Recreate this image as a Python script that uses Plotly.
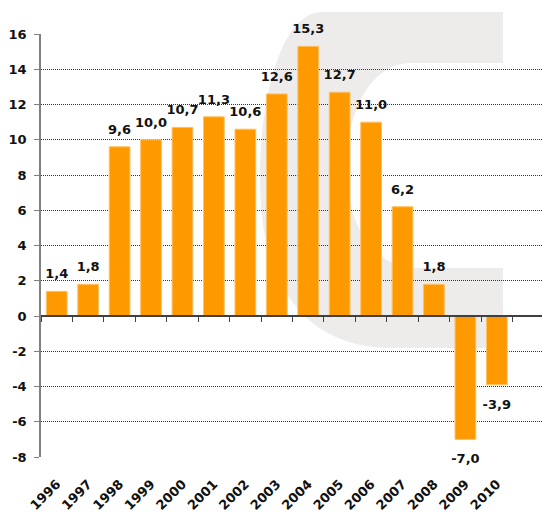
import plotly.graph_objects as go

years = ['1996', '1997', '1998', '1999', '2000', '2001', '2002', '2003',
         '2004', '2005', '2006', '2007', '2008', '2009', '2010']
values = [1.4, 1.8, 9.6, 10.0, 10.7, 11.3, 10.6, 12.6, 15.3, 12.7, 11.0, 6.2, 1.8, -7.0, -3.9]
# one empty slot on the right, like the original
cats = years + [' ']
y_ticks = list(range(-8, 17, 2))

labels = [('%.1f' % v).replace('.', ',') for v in values]

# plot area in page pixels; the page body adds an 8px margin
OFF = 8
L, R, T, B = 41, 544, 34, 457
W, H = 550 - OFF, 521 - OFF


def px(x, y):
    return '%.4f,%.4f' % ((x - L) / (R - L), (B - y) / (B - T))


# faint grey "C" watermark behind the bars
c_path = ('M ' + px(503, 12) + ' L ' + px(322, 12) +
          ' C ' + px(282, 12) + ' ' + px(260, 95) + ' ' + px(260, 180) +
          ' C ' + px(260, 285) + ' ' + px(305, 348) + ' ' + px(392, 348) +
          ' L ' + px(503, 348) + ' L ' + px(503, 268) + ' L ' + px(418, 268) +
          ' C ' + px(372, 268) + ' ' + px(347, 225) + ' ' + px(347, 168) +
          ' C ' + px(347, 108) + ' ' + px(372, 63) + ' ' + px(412, 63) +
          ' L ' + px(503, 63) + ' Z')
side1 = 'M ' + px(546, 12) + ' L ' + px(551, 12) + ' L ' + px(551, 50) + ' L ' + px(546, 50) + ' Z'
side2 = 'M ' + px(546, 280) + ' L ' + px(551, 280) + ' L ' + px(551, 330) + ' L ' + px(546, 330) + ' Z'

fig = go.Figure()
fig.add_trace(go.Bar(
    x=years, y=values,
    marker=dict(color='#FF9900', line=dict(color='#FFC266', width=1)),
    width=0.66, hoverinfo='skip',
))
# value labels: invisible markers push the text away from the bar ends
fig.add_trace(go.Scatter(
    x=years, y=values, text=labels, mode='markers+text',
    marker=dict(size=[14 if v >= 0 else 21 for v in values],
                color='rgba(0,0,0,0)', line=dict(width=0)),
    textposition=['top center' if v >= 0 else 'bottom center' for v in values],
    textfont=dict(family='DejaVu Sans', size=13, color='#111111', weight='bold'),
    cliponaxis=False, hoverinfo='skip', showlegend=False,
))
# dummy trace so the zero-level axis (x2) is drawn
fig.add_trace(go.Scatter(x=cats, y=[None] * len(cats), xaxis='x2', mode='lines',
                         showlegend=False, hoverinfo='skip'))

for p in (c_path, side1, side2):
    fig.add_shape(type='path', path=p, xref='paper', yref='paper',
                  fillcolor='#EDECEB', line=dict(width=0), layer='below')

fig.update_layout(
    width=W, height=H,
    margin=dict(l=L - OFF, r=W - (R - OFF), t=T - OFF, b=H - (B - OFF)),
    paper_bgcolor='white', plot_bgcolor='rgba(0,0,0,0)',
    showlegend=False,
    font=dict(family='DejaVu Sans', color='#111111'),
    xaxis=dict(type='category', categoryorder='array', categoryarray=cats,
               range=[-0.5, 15.5], showline=False, showgrid=False, ticks='',
               tickangle=-45, automargin=False, ticklabelstandoff=16,
               tickfont=dict(size=13, weight='bold')),
    xaxis2=dict(type='category', categoryorder='array', categoryarray=cats,
                overlaying='x', anchor='free', position=8 / 24, matches='x',
                showline=True, linecolor='#404040', linewidth=1.5,
                ticks='outside', tickson='boundaries', ticklen=5,
                tickcolor='#404040', showticklabels=False, showgrid=False),
    yaxis=dict(range=[-8, 16], tickvals=y_ticks,
               ticktext=[str(v) for v in y_ticks], showline=True,
               linecolor='#808080', linewidth=1.5, ticks='outside', ticklen=5,
               tickcolor='#808080', showgrid=True, gridcolor='#333333',
               griddash='1px,1px', gridwidth=1, zeroline=False,
               automargin=False, ticklabelstandoff=5,
               tickfont=dict(size=13, weight='bold')),
)

fig.write_html('out.html')
